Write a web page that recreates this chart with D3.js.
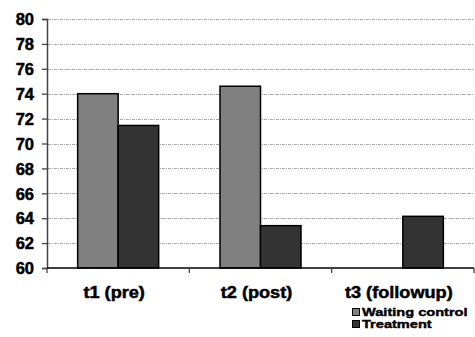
<!DOCTYPE html>
<html>
<head>
<meta charset="utf-8">
<script src="https://cdn.jsdelivr.net/npm/d3@7"></script>
<style>
  html, body { margin: 0; padding: 0; background: #fff; }
  svg { display: block; }
</style>
</head>
<body>
<svg id="chart" width="475" height="337"></svg>
<script>
const categories = ["t1 (pre)", "t2 (post)", "t3 (followup)"];
const seriesNames = ["Waiting control", "Treatment"];
const waitingControl = [74.0, 74.6, null];
const treatment = [71.45, 63.4, 64.15];
const yTicks = [60, 62, 64, 66, 68, 70, 72, 74, 76, 78, 80];
const colors = ["#808080", "#333333"];

(function () {
const FONT = "'Liberation Sans', Arial, sans-serif";
const seriesValues = [waitingControl, treatment];
const svg = d3.select("#chart");
const mLeft = 47, mRight = 474, mTop = 19, mBottom = 268;

const x0 = d3.scaleBand().domain(categories).range([mLeft, mRight]).padding(0);
const x1 = d3.scaleBand().domain(seriesNames).range([0, x0.bandwidth()]).paddingInner(0).paddingOuter(0.757);
const y = d3.scaleLinear().domain([60, 80]).range([mBottom, mTop]);

// gridlines
svg.append("g").selectAll("line").data(yTicks.filter(t => t !== 60)).join("line")
  .attr("x1", mLeft + 1).attr("x2", mRight)
  .attr("y1", d => Math.round(y(d)) + 0.5).attr("y2", d => Math.round(y(d)) + 0.5)
  .attr("stroke", "#aaaaaa").attr("stroke-width", 1).attr("stroke-dasharray", "3,1,1,1");

// bars
const groups = svg.append("g").selectAll("g").data(categories).join("g")
  .attr("transform", c => `translate(${x0(c)},0)`);
groups.selectAll("rect")
  .data((c, i) => seriesNames.map((s, j) => ({ s, j, v: seriesValues[j][i] })).filter(d => d.v != null))
  .join("rect")
  .attr("x", d => x1(d.s))
  .attr("width", x1.bandwidth())
  .attr("y", d => y(d.v))
  .attr("height", d => y(60) - y(d.v))
  .attr("fill", d => colors[d.j])
  .attr("stroke", "#000").attr("stroke-width", 1.5);

// y axis
const yAxis = d3.axisLeft(y).tickValues(yTicks).tickSize(5).tickPadding(8).tickFormat(d3.format("d"));
const ya = svg.append("g").attr("transform", `translate(${mLeft},0)`).call(yAxis);
ya.select(".domain").attr("stroke", "#444").attr("stroke-width", 1.5);
ya.selectAll(".tick line").attr("stroke", "#444").attr("stroke-width", 1.3);
ya.selectAll(".tick text")
  .style("font-family", FONT).style("font-weight", "700").style("font-size", "16.5px")
  .attr("fill", "#000").attr("stroke", "#000").attr("stroke-width", 0.5).attr("dy", "0.35em");

// x axis
const xa = svg.append("g").attr("transform", `translate(0,${mBottom})`);
xa.append("line").attr("x1", mLeft).attr("x2", mRight).attr("stroke", "#000").attr("stroke-width", 1.5);
const bounds = categories.map(c => x0(c)).concat([x0(categories[categories.length - 1]) + x0.bandwidth()]);
xa.selectAll("line.tk").data(bounds).join("line").attr("class", "tk")
  .attr("x1", d => d).attr("x2", d => d).attr("y1", 0).attr("y2", 5)
  .attr("stroke", "#444").attr("stroke-width", 1.3);

// category labels
svg.append("g").selectAll("text").data(categories).join("text")
  .attr("transform", c => `translate(${x0(c) + x0.bandwidth() / 2 - 4},298) scale(1.1,1)`)
  .attr("text-anchor", "middle")
  .style("font-family", FONT).style("font-weight", "700").style("font-size", "16.5px")
  .attr("fill", "#000").attr("stroke", "#000").attr("stroke-width", 0.5)
  .text(c => c);

// legend
const legend = svg.append("g");
const lg = legend.selectAll("g").data(seriesNames).join("g")
  .attr("transform", (s, i) => `translate(352,${308 + i * 12})`);
lg.append("rect").attr("x", 0.5).attr("y", 0.5).attr("width", 7).attr("height", 7)
  .attr("fill", (s, i) => colors[i]).attr("stroke", "#000").attr("stroke-width", 1);
lg.append("text")
  .attr("transform", "translate(10,8) scale(1.27,1)")
  .style("font-family", FONT).style("font-weight", "700").style("font-size", "11.5px")
  .attr("fill", "#000").attr("stroke", "#000").attr("stroke-width", 0.4)
  .text(s => s);
})();
</script>
</body>
</html>
